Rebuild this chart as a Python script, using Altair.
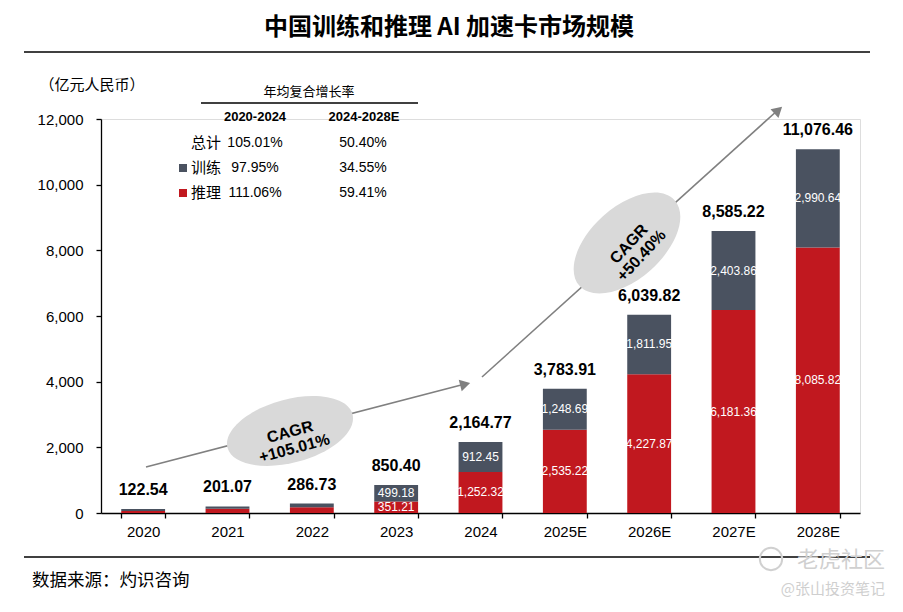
import altair as alt
import pandas as pd

# ---------------- data ----------------
years = ["2020", "2021", "2022", "2023", "2024", "2025E", "2026E", "2027E", "2028E"]
totals = [122.54, 201.07, 286.73, 850.40, 2164.77, 3783.91, 6039.82, 8585.22, 11076.46]
training = [60.0, 70.0, 110.0, 499.18, 912.45, 1248.69, 1811.95, 2403.86, 2990.64]
inference = [62.54, 131.07, 176.73, 351.21, 1252.32, 2535.22, 4227.87, 6181.36, 8085.82]
segment_labeled = [False, False, False, True, True, True, True, True, True]
y_ticks = [0, 2000, 4000, 6000, 8000, 10000, 12000]

series_names = ["推理", "训练"]
series_colors = ["#c1181f", "#4a5260"]

cagr_header = ["2020-2024", "2024-2028E"]
cagr_rows = ["总计", "训练", "推理"]
cagr_first = ["105.01%", "97.95%", "111.06%"]
cagr_second = ["50.40%", "34.55%", "59.41%"]

FONT = "Liberation Sans, Arial, Noto Sans CJK SC"
CJK = "Noto Sans CJK SC, Liberation Sans"

# ---------------- tables ----------------
rows = []
for i, yr in enumerate(years):
    rows.append({"year": yr, "series": "推理", "order": 0, "value": inference[i],
                 "mid": inference[i] / 2, "show": segment_labeled[i]})
    rows.append({"year": yr, "series": "训练", "order": 1, "value": training[i],
                 "mid": inference[i] + training[i] / 2, "show": segment_labeled[i]})
long_df = pd.DataFrame(rows)
tot_df = pd.DataFrame({"year": years, "total": totals})

x_enc = alt.X(
    "year:N", sort=years, title=None,
    scale=alt.Scale(paddingInner=0.48, paddingOuter=0.24),
    axis=alt.Axis(labelAngle=0, labelFontSize=15, labelFont=FONT, labelColor="#000",
                  tickBand="extent", tickSize=5, tickColor="#000", domainColor="#000",
                  domainWidth=1.3, tickWidth=1.3, labelPadding=6),
)
y_scale = alt.Scale(domain=[0, 12000], nice=False, zero=True)

bars = alt.Chart(long_df).mark_bar().encode(
    x=x_enc,
    y=alt.Y("value:Q", stack="zero", scale=y_scale, title=None,
            axis=alt.Axis(values=y_ticks, format=",.0f", grid=False, labelFontSize=15,
                          labelFont=FONT, labelColor="#000", tickSize=5, tickColor="#000",
                          domainColor="#000", domainWidth=1.3, tickWidth=1.3,
                          labelPadding=13)),
    color=alt.Color("series:N", scale=alt.Scale(domain=series_names, range=series_colors),
                    legend=None),
    order=alt.Order("order:Q"),
)

seg_labels = alt.Chart(long_df).transform_filter("datum.show").mark_text(
    color="#ffffff", fontSize=12, font=FONT, baseline="middle"
).encode(
    x=alt.X("year:N", sort=years),
    y=alt.Y("mid:Q", scale=y_scale),
    text=alt.Text("value:Q", format=",.2f"),
)

tot_labels = alt.Chart(tot_df).mark_text(
    fontSize=16, fontWeight="bold", font=FONT, color="#000", baseline="middle", dy=-19
).encode(
    x=alt.X("year:N", sort=years),
    y=alt.Y("total:Q", scale=y_scale),
    text=alt.Text("total:Q", format=",.2f"),
)

one = pd.DataFrame({"k": [0]})


def txt(s, x, y, size=14, weight="normal", align="center", font=FONT, color="#000",
        angle=0, baseline="middle", line_height=None):
    props = dict(text=s, fontSize=size, fontWeight=weight, align=align, font=font,
                 color=color, baseline=baseline)
    if angle:
        props["angle"] = angle
    if line_height:
        props["lineHeight"] = line_height
    return alt.Chart(one).mark_text(**props).encode(x=alt.value(x), y=alt.value(y))


def rule(x, y, x2, y2, color="#000", width=1.0):
    return alt.Chart(one).mark_rule(color=color, strokeWidth=width).encode(
        x=alt.value(x), y=alt.value(y), x2=alt.value(x2), y2=alt.value(y2))


def symbol(shape, x, y, size, color, angle=0, filled=True):
    props = dict(shape=shape, size=size, filled=filled, color=color, opacity=1)
    if angle:
        props["angle"] = angle
    return alt.Chart(one).mark_point(**props).encode(x=alt.value(x), y=alt.value(y))


ell1 = "M -1 0 A 1 0.49 0 1 0 1 0 A 1 0.49 0 1 0 -1 0 Z"
ell2 = "M -1 0 A 1 0.5625 0 1 0 1 0 A 1 0.5625 0 1 0 -1 0 Z"

layers = [
    # title + frame lines
    txt("中国训练和推理 AI 加速卡市场规模", 348, -91, size=24, weight="bold", font=CJK),
    rule(-77, -67, 769, -67, width=1.3),
    rule(-77, 438, 769, 438, width=1.3),
    txt("数据来源：灼识咨询", -69, 462, size=17.5, align="left", font=CJK),
    txt("（亿元人民币）", -9, -34, size=15, font=CJK),
    # CAGR table
    txt("年均复合增长率", 208, -27, size=13, font=CJK),
    rule(100, -16, 317, -16, width=1.3),
    txt(cagr_header[0], 154, -2, size=13, weight="bold"),
    txt(cagr_header[1], 263, -2, size=13, weight="bold"),
]
row_y = [24, 49, 74]
for i in range(3):
    layers.append(txt(cagr_rows[i], 120, row_y[i], size=15, align="right", font=CJK))
    layers.append(txt(cagr_first[i], 154, row_y[i], size=14))
    layers.append(txt(cagr_second[i], 262, row_y[i], size=14))
layers.append(symbol("square", 82, row_y[1], 64, series_colors[1]))
layers.append(symbol("square", 82, row_y[2], 64, series_colors[0]))

# growth arrows and CAGR ellipses
layers += [
    rule(45, 348, 364, 265, color="#808080", width=1.6),
    symbol("triangle-up", 364.2, 265.3, 140, "#808080", angle=75.5),
    rule(381, 258, 677, -9, color="#808080", width=1.6),
    symbol("triangle-up", 677.3, -8.7, 140, "#808080", angle=48),
    symbol(ell1, 189, 312, 16744, "#d9d9d9", angle=345),
    symbol(ell2, 526, 124, 16384, "#d9d9d9", angle=318),
    txt(["CAGR", "+105.01%"], 189, 313, size=16, weight="bold", angle=345, line_height=17),
    txt(["CAGR", "+50.40%"], 528, 125, size=16, weight="bold", angle=313, line_height=17),
]

# watermark
layers += [
    txt("老虎社区", 784, 441, size=22, align="right", font=CJK, color="#d0d0d0"),
    symbol("circle", 670, 440, 500, "#d0d0d0", filled=False),
    txt("@张山投资笔记", 784, 470, size=15, align="right", font=CJK, color="#cfcfcf"),
]

chart = alt.layer(bars, seg_labels, tot_labels, *layers).properties(
    width=759, height=394,
    autosize=alt.AutoSizeParams(type="none"),
    padding={"left": 93, "top": 111, "right": 30, "bottom": 90},
).configure_view(stroke=None).configure(background="#ffffff")

chart.save("out.html", embed_options={"renderer": "svg", "actions": False})
